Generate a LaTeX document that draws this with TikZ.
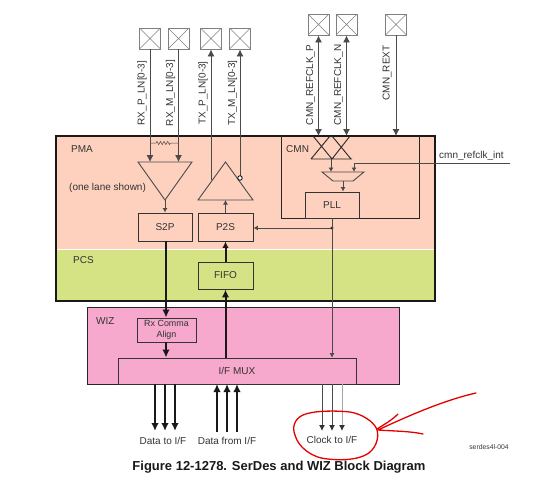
\documentclass[tikz,border=0pt]{standalone}
\usepackage{fontspec}
\setmainfont{Liberation Sans}
\usepackage{xcolor}
\usetikzlibrary{arrows.meta,decorations.pathmorphing}
\definecolor{pmafill}{HTML}{FDD1BE}
\definecolor{pcsfill}{HTML}{D6E385}
\definecolor{wizfill}{HTML}{F6A9CC}
\definecolor{linegray}{HTML}{4A4A4A}
\definecolor{txtgray}{HTML}{333333}
\tikzset{
  pad/.style={draw=gray,fill=white,minimum size=21pt,inner sep=0pt,line width=0.9pt,
    path picture={\draw[gray,line width=0.6pt] (path picture bounding box.south west)--(path picture bounding box.north east)
      (path picture bounding box.north west)--(path picture bounding box.south east);}},
  blk/.style={draw=black!80,line width=0.95pt,inner sep=0pt,text=txtgray,font=\fontsize{10}{12}\selectfont,align=center},
  lbl/.style={text=txtgray,font=\fontsize{10}{12}\selectfont,inner sep=0pt},
  sig/.style={text=txtgray,font=\fontsize{10}{12}\selectfont,inner sep=0pt,rotate=90},
  wire/.style={linegray,line width=0.9pt},
  bigtip/.style={-{Latex[length=7pt,width=7pt]}},
  smalltip/.style={-{Latex[length=4.5pt,width=5pt]}},
  thick bus/.style={black!90,line width=2pt,-{Latex[length=8pt,width=7.5pt]}},
  redpen/.style={red!90!black,line width=1.3pt,line cap=round,line join=round}
}
\begin{document}
\begin{tikzpicture}[x=1pt,y=-1pt]
    \useasboundingbox (0,0) rectangle (533,480);
    % backgrounds
    \fill[pmafill] (56,136) rectangle (435,249);
    \fill[pcsfill] (56,249) rectangle (435,301);
    \draw[white,line width=0.6pt] (56,249)--(435,249);
    \draw[black!90,line width=2.2pt] (56,136) rectangle (435,301);
    \node[draw=black!85,line width=0.95pt,fill=wizfill,minimum width=312pt,minimum height=77pt,inner sep=0pt] (wiz) at (243,345.5) {};
    \draw[black!85,line width=0.95pt] (281,136)--(281,218)--(419,218)--(419,136);
    \node[lbl,anchor=west] (pmalbl) at (71,149) {PMA};
    \node[lbl,anchor=west] (onelane) at (69,188) {(one lane shown)};
    \node[lbl,anchor=west] (pcslbl) at (73,260) {PCS};
    \node[lbl,anchor=west] (cmnlbl) at (286,149) {CMN};
    \node[lbl,anchor=west] (wizlbl) at (96,321) {WIZ};
    % blocks
    \node[blk,minimum width=54pt,minimum height=28pt] (s2p) at (165,227) {S2P};
    \node[blk,minimum width=55pt,minimum height=28pt] (p2s) at (225.5,227) {P2S};
    \node[blk,minimum width=55pt,minimum height=27pt] (fifo) at (225.5,275.5) {FIFO};
    \node[blk,minimum width=54pt,minimum height=26pt] (pll) at (332,205) {PLL};
    \node[blk,minimum width=59pt,minimum height=24pt,font=\fontsize{8.9}{10.5}\selectfont] (comma) at (166.5,330) {Rx Comma\\Align};
    \node[blk,minimum width=238pt,minimum height=26pt] (ifmux) at (237,371) {I/F MUX};
    % pads
    \node[pad] (rxp) at (150,38.5) {};
    \node[pad] (rxm) at (178.5,38.5) {};
    \node[pad] (txp) at (211,38.5) {};
    \node[pad] (txm) at (240,38.5) {};
    \node[pad] (refp) at (318.5,24.5) {};
    \node[pad] (refn) at (346.5,24.5) {};
    \node[pad] (rext) at (396,24.5) {};
    \node[sig] (rxplbl) at (142,93) {RX\_P\_LN[0-3]};
    \node[sig] (rxmlbl) at (170.5,93) {RX\_M\_LN[0-3]};
    \node[sig] (txplbl) at (203,93) {TX\_P\_LN[0-3]};
    \node[sig] (txmlbl) at (232.5,93) {TX\_M\_LN[0-3]};
    \node[sig] (refplbl) at (310.5,85) {CMN\_REFCLK\_P};
    \node[sig] (refnlbl) at (338.5,85) {CMN\_REFCLK\_N};
    \node[sig] (rextlbl) at (387,73) {CMN\_REXT};
    % triangles and mux
    \draw[wire,line join=miter] (138,162)--(192,162)--(165,200)--cycle;
    \draw[wire,line join=miter] (198,200)--(253,200)--(225.5,162)--cycle;
    \draw[black!85,line width=0.9pt] (311,159)--(352,159) (313,136)--(332,159) (330,136)--(311,159) (332,136)--(351,159) (350,136)--(332,159);
    \draw[wire] (322,172)--(364,172)--(353,181)--(333,181)--cycle;
    % named ends of the wires
    \coordinate (rxtipp) at (150,162);
    \coordinate (rxtipm) at (178.5,162);
    \coordinate (rxout) at (165,200);
    \coordinate (txin) at (225.5,200);
    \coordinate (txpend) at (211,180);
    \coordinate (txmend) at (240,176);
    \coordinate (topp) at (318.5,136);
    \coordinate (topn) at (346.5,136);
    \coordinate (toprext) at (396,136);
    \coordinate (muxa) at (331,172);
    \coordinate (muxb) at (354,172);
    \coordinate (crossout) at (331,159);
    \coordinate (intcorner) at (354,163);
    \coordinate (intend) at (510,163);
    \coordinate (muxout) at (343,181);
    \coordinate (clkjoin) at (332,228);
    \coordinate (clkstart) at (332,218);
    \coordinate (resl) at (150,143);
    \coordinate (resr) at (178.5,143);
    % pins
    \draw[wire,bigtip] (rxp)--(rxtipp);
    \draw[wire,bigtip] (rxm)--(rxtipm);
    \draw[wire,{Latex[length=7pt,width=7pt]}-] (txp)--(txpend);
    \draw[wire,{Latex[length=7pt,width=7pt]}-] (txm)--(txmend);
    \node[draw=black,fill=white,circle,line width=0.8pt,inner sep=0pt,minimum size=4.5pt] (bubble) at (240,178) {};
    \draw[wire,{Latex[length=7pt,width=7pt]}-{Latex[length=7pt,width=7pt]}] (refp)--(topp);
    \draw[wire,{Latex[length=7pt,width=7pt]}-{Latex[length=7pt,width=7pt]}] (refn)--(topn);
    \draw[wire,bigtip] (rext)--(toprext);
    \draw[wire,line width=0.5pt] (resl)--(156,143) decorate[decoration={zigzag,segment length=3.6pt,amplitude=1.6pt}]{--(172,143)}--(resr);
    % inner signals
    \draw[wire,smalltip] (rxout)--(s2p);
    \draw[wire,smalltip] (p2s)--(txin);
    \draw[wire,smalltip] (crossout)--(muxa);
    \draw[wire,smalltip] (intend)--(intcorner)--(muxb);
    \node[lbl,anchor=south west] (intlbl) at (439,161) {cmn\_refclk\_int};
    \draw[wire,smalltip] (muxout)--(pll.north -| muxout);
    \draw[wire,smalltip] (clkjoin)--(p2s.east |- clkjoin);
    \fill[black!85] (clkjoin) circle (1.7pt);
    \draw[wire] (clkstart)--(clkjoin);
    \draw[wire,line width=0.7pt,smalltip] (clkjoin)--(ifmux.north -| clkjoin);
    % thick paths
    \draw[thick bus] (s2p.south -| 166,241)--(comma.north -| 166,318);
    \draw[thick bus] (comma.south -| 166,342)--(ifmux.north -| 166,358);
    \draw[thick bus] (ifmux.north -| fifo)--(fifo);
    \draw[thick bus,-{Latex[length=6.5pt,width=6.5pt]}] (fifo)--(p2s);
    % I/F busses
    \foreach \xx in {155,165,175}
      \draw[thick bus] (\xx,384)--(\xx,431);
    \foreach \xx in {217,227,237}
      \draw[thick bus] (\xx,432)--(\xx,384);
    \foreach \xx/\cc in {322/linegray,332/linegray,342/black!35}
      \draw[\cc,line width=1pt,-{Latex[length=6pt,width=6pt,black!80]}] (\xx,384)--(\xx,431);
    \node[lbl] (datato) at (163,441) {Data to I/F};
    \node[lbl] (datafrom) at (227,441) {Data from I/F};
    \node[lbl] (clockto) at (332,440) {Clock to I/F};
    \node[lbl,font=\fontsize{6.8}{8}\selectfont] (refid) at (489,447) {serdes4l-004};
    \node[font=\bfseries\fontsize{13}{15}\selectfont,text=black!90,inner sep=0pt] (caption) at (279,467) {Figure 12-1278. SerDes and WIZ Block Diagram};
    % red marking
    \draw[redpen] (345,411.5) .. controls (330,410.5) and (312,411) .. (303,415)
      .. controls (294,419) and (292,428) .. (295,435)
      .. controls (298,447) and (312,458) .. (328,459)
      .. controls (345,461) and (365,459) .. (372,450)
      .. controls (379,442) and (379,431) .. (375,426)
      .. controls (370,419) and (358,412) .. (345,411.5);
    \draw[redpen] (476,393) .. controls (445,400) and (410,415) .. (378,430)
      .. controls (390,431) and (410,431) .. (423,434);
    \draw[redpen] (398,414) .. controls (392,420) and (385,424) .. (377,429);
\end{tikzpicture}
\end{document}
